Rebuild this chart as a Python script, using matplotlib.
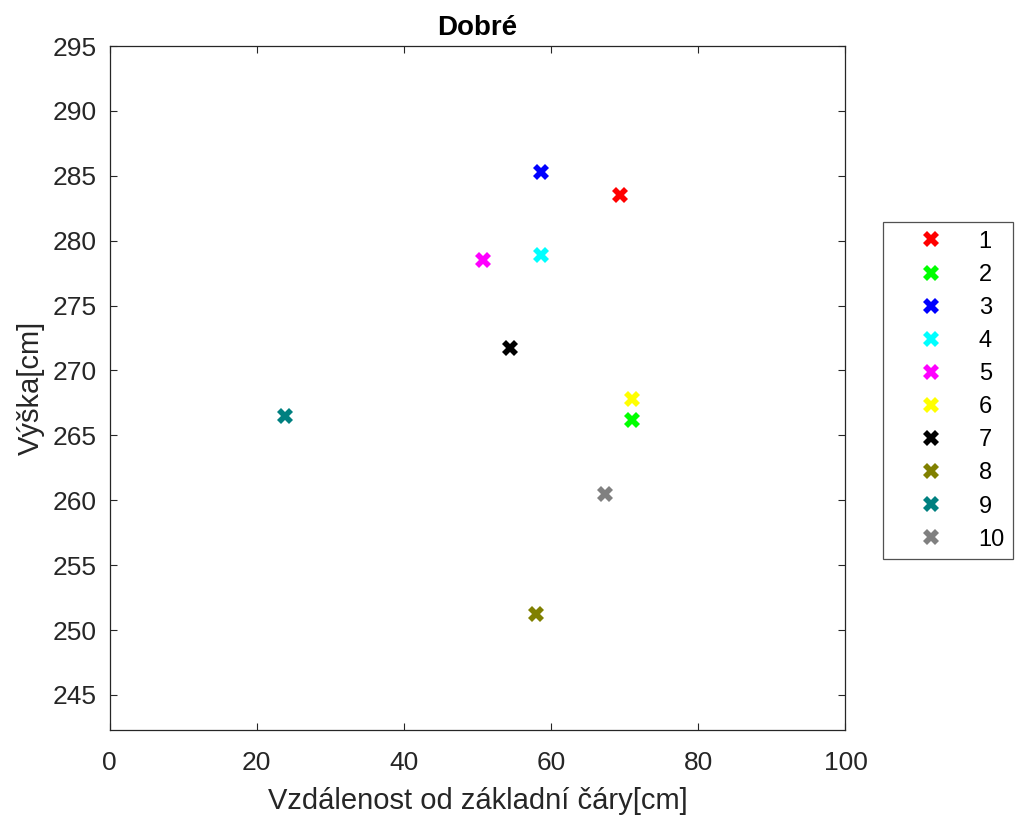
import numpy as np
import matplotlib
matplotlib.use('Agg')
import matplotlib.pyplot as plt

plt.rcParams['font.family'] = ['Liberation Sans', 'DejaVu Sans']
plt.rcParams['xtick.direction'] = 'in'
plt.rcParams['ytick.direction'] = 'in'
plt.rcParams['xtick.top'] = True
plt.rcParams['ytick.right'] = True

labels = ['1', '2', '3', '4', '5', '6', '7', '8', '9', '10']
x_cm = [69.4, 71.0, 58.6, 58.6, 50.7, 71.0, 54.4, 58.0, 23.9, 67.3]
y_cm = [283.5, 266.2, 285.3, 278.9, 278.5, 267.8, 271.7, 251.2, 266.5, 260.5]
colors = ['#ff0000', '#00ff00', '#0000ff', '#00ffff', '#ff00ff',
          '#ffff00', '#000000', '#808000', '#008080', '#808080']

fig = plt.figure(figsize=(10.15, 8.22), dpi=100)
ax = fig.add_axes([0.108, 0.112, 0.725, 0.832])

for lab, x, y, c in zip(labels, x_cm, y_cm, colors):
    ax.plot(x, y, linestyle='none', marker='X', markersize=12,
            markeredgewidth=0, color=c, label=lab)

ax.set_xlim(0, 100)
ax.set_ylim(242.3, 295)
ax.set_xticks(range(0, 101, 20))
ax.set_yticks(range(245, 296, 5))
ax.tick_params(labelsize=19, colors='#262626', length=5, width=0.8)
ax.tick_params(axis='x', pad=15)
ax.tick_params(axis='y', pad=9)
for s in ax.spines.values():
    s.set_color('#262626')
    s.set_linewidth(0.9)

ax.set_title('Dobré', fontsize=20, fontweight='bold', pad=8)
ax.set_xlabel('Vzdálenost od základní čáry[cm]', fontsize=21, color='#262626', labelpad=9)
ax.set_ylabel('Výška[cm]', fontsize=21, color='#262626', labelpad=6)

leg = ax.legend(loc='upper left', bbox_to_anchor=(1.051, 0.742), fontsize=17,
                frameon=True, fancybox=False, edgecolor='#262626',
                handletextpad=0.3, labelspacing=0.47, borderpad=0.35,
                handlelength=3.4, borderaxespad=0)
leg.get_frame().set_linewidth(0.9)

fig.savefig('out.png', dpi=100)
